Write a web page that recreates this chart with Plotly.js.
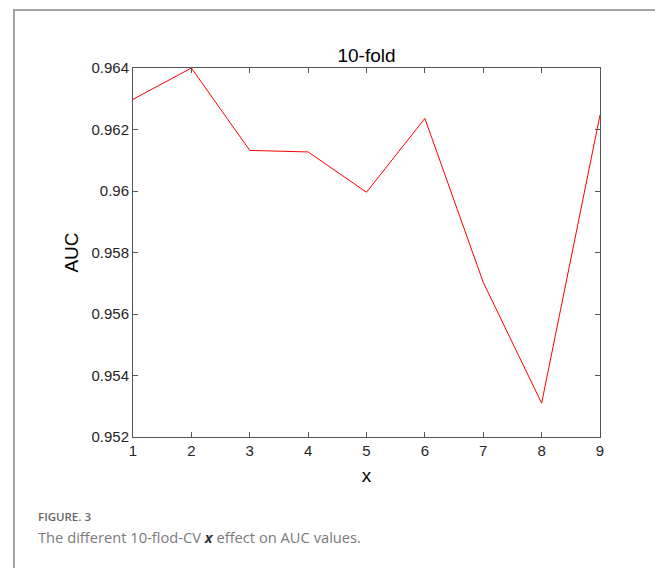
<!DOCTYPE html>
<html>
<head>
<meta charset="utf-8">
<script src="https://cdn.plot.ly/plotly-3.0.1.min.js"></script>
<style>
  html, body { margin: 0; padding: 0; background: #fff; }
  #wrap { position: relative; width: 655px; height: 568px; overflow: hidden; }
  #chart { position: absolute; left: 0; top: 0; width: 655px; height: 568px; }
  #frame { position: absolute; left: 13px; top: 9px; width: 700px; height: 600px;
           border-left: 2px solid #a3a3a3; border-top: 2px solid #a3a3a3; pointer-events: none; }
  .cap1 { position: absolute; left: 38px; top: 509px; font-family: "Open Sans", "Noto Sans", sans-serif;
          font-size: 11.5px; font-weight: 600; color: #666; line-height: 16px; white-space: nowrap; }
  .cap2 { position: absolute; left: 38px; top: 527px; font-family: "Open Sans", "Noto Sans", sans-serif;
          font-size: 14.7px; font-weight: 400; color: #7a7a7a; line-height: 20px; white-space: nowrap; }
  .cap2 b { color: #333; }
</style>
</head>
<body>
<div id="wrap">
  <div id="chart"></div>
  <div id="frame"></div>
  <div class="cap1">FIGURE. 3</div>
  <div class="cap2">The different 10-flod-CV <b><i>x</i></b> effect on AUC values.</div>
</div>
<script>
// Data
const xValues = [1, 2, 3, 4, 5, 6, 7, 8, 9];
const aucValues = [0.96298, 0.96400, 0.96132, 0.96127, 0.95996, 0.96236, 0.95703, 0.95310, 0.96247];

const xTickVals = [1, 2, 3, 4, 5, 6, 7, 8, 9];
const xTickText = ['1', '2', '3', '4', '5', '6', '7', '8', '9'];
const yTickVals = [0.952, 0.954, 0.956, 0.958, 0.960, 0.962, 0.964];
const yTickText = ['0.952', '0.954', '0.956', '0.958', '0.96', '0.962', '0.964'];

const axisColor = '#555555';
const textColor = '#262626';
const fontFam = 'Liberation Sans, Arial, sans-serif';

const trace = {
  x: xValues,
  y: aucValues,
  type: 'scatter',
  mode: 'lines',
  line: { color: '#ff0000', width: 1 },
  hoverinfo: 'x+y'
};

const layout = {
  width: 655,
  height: 568,
  margin: { l: 133, r: 55, t: 68, b: 131 },
  paper_bgcolor: '#ffffff',
  plot_bgcolor: '#ffffff',
  showlegend: false,
  font: { family: fontFam, color: textColor, size: 15 },
  title: {
    text: '10-fold',
    font: { family: fontFam, size: 19, color: '#000' },
    x: 0.5, xref: 'paper', xanchor: 'center',
    y: 1, yref: 'paper', yanchor: 'bottom',
    pad: { b: 6 }
  },
  xaxis: {
    range: [1, 9],
    tickvals: xTickVals,
    ticktext: xTickText,
    ticks: 'inside',
    ticklen: 5,
    tickcolor: axisColor,
    tickwidth: 1,
    showline: true,
    linecolor: axisColor,
    linewidth: 1,
    mirror: 'ticks',
    showgrid: false,
    zeroline: false,
    tickfont: { family: fontFam, size: 15, color: textColor },
    title: { text: 'x', font: { family: fontFam, size: 19, color: '#000' }, standoff: 10 }
  },
  yaxis: {
    range: [0.952, 0.964],
    tickvals: yTickVals,
    ticktext: yTickText,
    ticks: 'inside',
    ticklen: 5,
    tickcolor: axisColor,
    tickwidth: 1,
    showline: true,
    linecolor: axisColor,
    linewidth: 1,
    mirror: 'ticks',
    showgrid: false,
    zeroline: false,
    tickfont: { family: fontFam, size: 15, color: textColor },
    title: { text: 'AUC', font: { family: fontFam, size: 19, color: '#000' }, standoff: 7 }
  }
};

Plotly.newPlot('chart', [trace], layout, { displayModeBar: false, staticPlot: true });
</script>
</body>
</html>
